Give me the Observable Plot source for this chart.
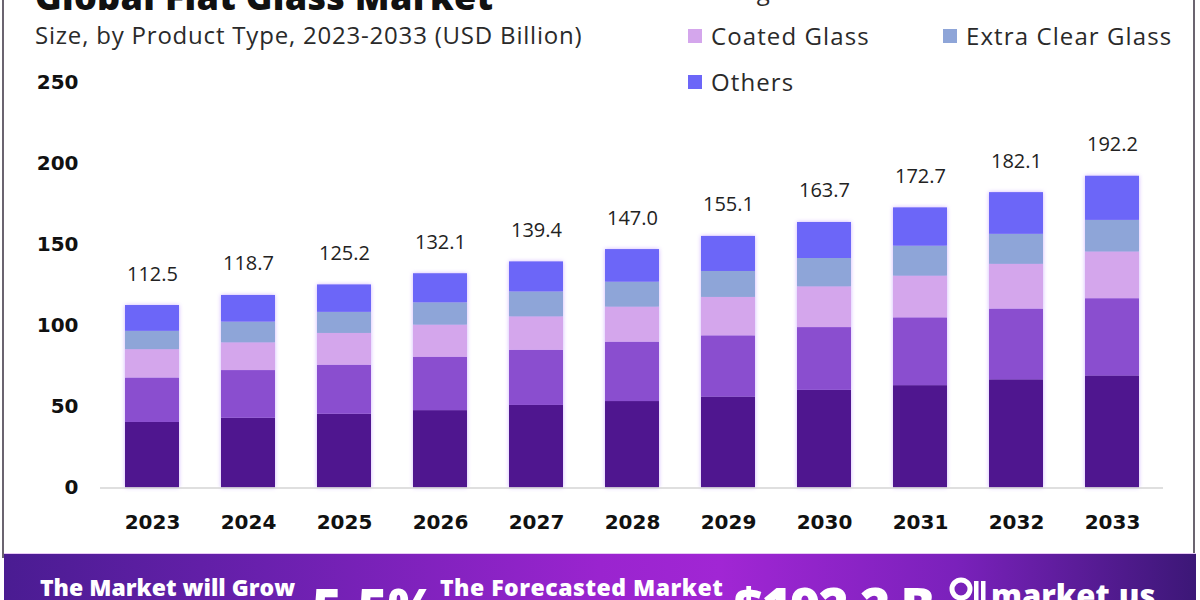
<!DOCTYPE html>
<html>
<head>
<meta charset="utf-8">
<script src="https://cdn.jsdelivr.net/npm/d3@7"></script>
<script src="https://cdn.jsdelivr.net/npm/@observablehq/plot@0.6"></script>
<style>
  html, body { margin: 0; padding: 0; background: #fff; }
  #page { position: relative; width: 1200px; height: 600px; overflow: hidden; font-family: "Open Sans", "Noto Sans", sans-serif; background: #fff; }
  #border { position: absolute; left: 2px; top: -2px; width: 1193px; height: 560px; border-left: 2px solid #6b6470; border-right: 2px solid #6b6470; box-sizing: border-box; }
  #title { position: absolute; left: 35px; top: -21px; font-size: 36px; font-weight: 800; color: #111; line-height: 1; white-space: nowrap; letter-spacing: 0.3px; }
  #subtitle { position: absolute; left: 35px; top: 21px; font-size: 24px; letter-spacing: 0.8px; color: #2a2a2a; line-height: 1.2; white-space: nowrap; }
  #chart { position: absolute; left: 0; top: 60px; }
  .lg { position: absolute; display: flex; align-items: center; font-size: 24px; letter-spacing: 1.1px; color: #2a2a2a; white-space: nowrap; line-height: 1.2; }
  .lg .sw { width: 14px; height: 14px; margin-right: 9px; }
  #banner { position: absolute; left: 4px; top: 553px; width: 1192px; height: 60px; overflow: hidden;
    background: linear-gradient(90deg, #4a1c92 0%, #6a20ae 22%, #9a24cf 50%, #a126d4 60%, #7a21bb 80%, #3c1777 100%);
    border-top: 1px solid #e8c8f5; }
  .bt { position: absolute; color: #fff; font-weight: 800; white-space: nowrap; line-height: 1; }
</style>
</head>
<body>
<div id="page">
  <div id="border"></div>
  <div id="title">Global Flat Glass Market</div>
  <div id="subtitle">Size, by Product Type, 2023-2033 (USD Billion)</div>
  <div id="legend"></div>
  <div id="chart"></div>
  <div id="banner">
    <div class="bt" style="left:36px; top:22px; font-size:23px;">The Market will Grow</div>
    <div class="bt" style="left:308px; top:26px; font-size:52px;">5.5%</div>
    <div class="bt" style="left:436px; top:22px; font-size:23px; letter-spacing:0.5px;">The Forecasted Market</div>
    <div class="bt" style="left:730px; top:26px; font-size:51px; letter-spacing:-1.5px;">$192.2 B</div>
    <svg style="position:absolute; left:945px; top:21px;" width="38" height="30" viewBox="0 0 38 30">
      <circle cx="12" cy="14" r="9" fill="none" stroke="#fff" stroke-width="5"/>
      <rect x="25" y="6" width="4.5" height="22" fill="#fff"/>
      <rect x="32" y="6" width="4.5" height="22" fill="#fff"/>
    </svg>
    <div class="bt" style="left:987px; top:26px; font-size:31px;">market.us</div>
  </div>
</div>
<script>
const years = ["2023", "2024", "2025", "2026", "2027", "2028", "2029", "2030", "2031", "2032", "2033"];
const seriesNames = ["Toughened Glass", "Basic Float Glass", "Coated Glass", "Extra Clear Glass", "Others"];
const seriesColors = ["#4f168f", "#8a4ecf", "#d4a6ec", "#8ea5d8", "#6c66f8"];
const toughened  = [40.4, 43.0, 45.5, 47.7, 50.9, 53.3, 56.1, 60.2, 63.1, 66.7, 69.1];
const basicFloat = [27.4, 29.4, 30.2, 32.9, 34.0, 36.6, 37.7, 38.7, 41.8, 43.6, 47.6];
const coated     = [17.5, 17.1, 19.6, 19.8, 20.6, 21.6, 23.7, 25.1, 25.7, 27.6, 28.8];
const extraClear = [11.3, 12.8, 13.0, 13.8, 15.4, 15.4, 16.0, 17.5, 18.5, 18.5, 19.5];
const others     = [15.9, 16.4, 16.9, 17.9, 18.5, 20.1, 21.6, 22.2, 23.6, 25.7, 27.2];
const totals     = [112.5, 118.7, 125.2, 132.1, 139.4, 147.0, 155.1, 163.7, 172.7, 182.1, 192.2];
const yTicks = [0, 50, 100, 150, 200, 250];

const seriesValues = [toughened, basicFloat, coated, extraClear, others];
const rows = [];
years.forEach((yr, i) => {
  seriesNames.forEach((s, j) => rows.push({year: yr, series: s, value: seriesValues[j][i]}));
});
const totalRows = years.map((yr, i) => ({year: yr, total: totals[i]}));

// Legend (2 columns, row-wise)
const legendEl = document.getElementById("legend");
const legendPos = [[688, -23], [943, -23], [688, 22], [943, 22], [688, 68]];
seriesNames.forEach((s, i) => {
  const d = document.createElement("div");
  d.className = "lg";
  d.style.left = legendPos[i][0] + "px";
  d.style.top = legendPos[i][1] + "px";
  d.innerHTML = `<div class="sw" style="background:${seriesColors[i]}"></div><span>${s}</span>`;
  legendEl.appendChild(d);
});

const axisFont = "'DejaVu Sans', 'Open Sans', sans-serif";
const chart = Plot.plot({
  width: 1200,
  height: 490,
  marginTop: 22,
  marginBottom: 62.5,
  marginLeft: 100,
  marginRight: 37,
  style: {fontFamily: "'Open Sans', 'Noto Sans', sans-serif", background: "transparent", color: "#111"},
  x: {domain: years, paddingInner: 0.44, paddingOuter: 0.24, label: null},
  y: {domain: [0, 250], label: null},
  color: {domain: seriesNames, range: seriesColors},
  marks: [
    Plot.barY(rows, {x: "year", y: "value", fill: "series", order: null}),
    Plot.ruleY([0], {stroke: "#d4d4d4", strokeWidth: 1.5}),
    Plot.text(totalRows, {x: "year", y: "total", text: d => d.total.toFixed(1), dy: -25, fontSize: 20, fill: "#222", lineAnchor: "bottom"}),
    Plot.axisY({ticks: yTicks, tickSize: 0, tickPadding: 22, fontSize: 20, fontWeight: 700, fontFamily: axisFont, fill: "#111", label: null}),
    Plot.axisX({tickSize: 0, tickPadding: 27, fontSize: 20, fontWeight: 700, fontFamily: axisFont, fill: "#111", label: null})
  ]
});
document.getElementById("chart").appendChild(chart);
d3.select(chart).selectAll('g[aria-label="bar"]').style("filter", "drop-shadow(0 0 2px rgba(190,150,255,0.7))");
</script>
</body>
</html>
